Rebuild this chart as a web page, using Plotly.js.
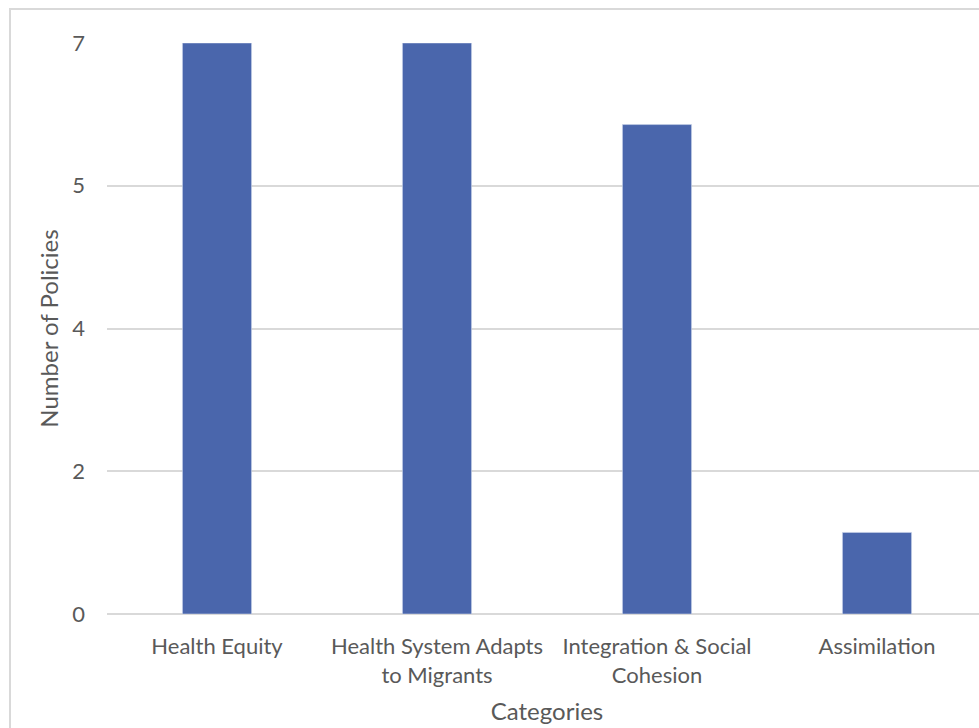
<!DOCTYPE html>
<html>
<head>
<meta charset="utf-8">
<script src="https://cdn.plot.ly/plotly-3.0.1.min.js"></script>
<style>
  html, body { margin: 0; padding: 0; background: #ffffff; overflow: hidden; width: 979px; height: 728px; }
  #chart { position: absolute; left: 0; top: 0; }
  #frame { position: absolute; left: 9px; top: 8px; width: 1000px; height: 740px;
           border-left: 2px solid #d9d9d9; border-top: 2px solid #d9d9d9; pointer-events: none; }
</style>
</head>
<body>
<div id="chart"></div>
<div id="frame"></div>
<script>
// Policy counts per category
const categories = ["Health Equity", "Health System Adapts<br>to Migrants", "Integration & Social<br>Cohesion", "Assimilation"];
const policyCounts = [7, 7, 6, 1];

// Value axis: four equal steps from 0 to 7, labels rounded to whole numbers
const yTickValues = [0, 1.75, 3.5, 5.25, 7];
const yTickLabels = ["0", "2", "4", "5", "7"];

const textColor = "#595959";
const gridColor = "#d9d9d9";
const fontFamily = "Lato, 'Open Sans', sans-serif";
const tickSize = 22;
const titleSize = 24;

const trace = {
  type: "bar",
  x: categories,
  y: policyCounts,
  marker: { color: "#4a66ac", line: { color: "#c9d3ea", width: 0.6 } },
  hoverinfo: "x+y"
};

const layout = {
  width: 1000,
  height: 728,
  margin: { l: 107, r: 13, t: 43, b: 114 },
  paper_bgcolor: "#ffffff",
  plot_bgcolor: "#ffffff",
  bargap: 0.686,
  showlegend: false,
  font: { family: fontFamily, size: tickSize, color: textColor },
  xaxis: {
    type: "category",
    showgrid: false,
    showline: false,
    ticks: "",
    tickfont: { family: fontFamily, size: tickSize, color: textColor },
    ticklabelstandoff: 17,
    title: { text: "Categories", font: { family: fontFamily, size: titleSize, color: textColor }, standoff: 16 }
  },
  yaxis: {
    range: [0, 7],
    tickmode: "array",
    tickvals: yTickValues,
    ticktext: yTickLabels,
    showgrid: true,
    gridcolor: gridColor,
    gridwidth: 2,
    zeroline: true,
    zerolinecolor: gridColor,
    zerolinewidth: 2,
    showline: false,
    ticks: "",
    ticklabelstandoff: 21,
    tickfont: { family: fontFamily, size: tickSize, color: textColor },
    title: { text: "Number of Policies", font: { family: fontFamily, size: titleSize, color: textColor }, standoff: 6 }
  }
};

Plotly.newPlot("chart", [trace], layout, { displayModeBar: false, staticPlot: true });
</script>
</body>
</html>
